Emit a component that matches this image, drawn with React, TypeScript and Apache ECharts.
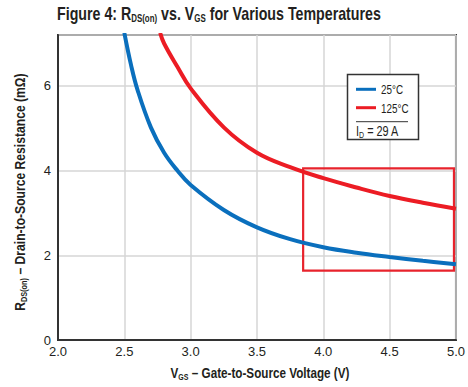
import React, { useEffect, useRef } from "react";
import * as echarts from "echarts";

// ---- data ----
const seriesNames = ["25°C", "125°C"];
const vgs25 = [2.5, 2.55, 2.6, 2.7, 2.8, 2.9, 3.0, 3.25, 3.5, 3.75, 4.0, 4.25, 4.5, 4.75, 5.0];
const rds25 = [7.25, 6.5, 5.9, 5.02, 4.42, 4.0, 3.66, 3.07, 2.66, 2.38, 2.19, 2.06, 1.96, 1.87, 1.79];
const vgs125 = [2.77, 2.8, 2.9, 3.0, 3.25, 3.5, 3.75, 4.0, 4.25, 4.5, 4.75, 5.0];
const rds125 = [7.25, 7.0, 6.45, 5.94, 5.02, 4.42, 4.08, 3.82, 3.6, 3.4, 3.24, 3.1];
const xMin = 2.0, xMax = 5.0, xInterval = 0.5;
const yMin = 0, yMax = 7.2, yInterval = 2;
const highlightX = [3.848, 4.985];
const highlightY = [1.64, 4.05];
const currentLabel = "29 A";

const FONT = "'Liberation Sans', Arial, sans-serif";
const TXT = "#231f20";
const BLUE = "#0a6fbd";
const RED = "#ec1c24";
const COLORS = [BLUE, RED];

function rich(size: number, subSize: number, bold: boolean) {
  const fw = bold ? "bold" : "normal";
  return {
    a: { fontFamily: FONT, fontSize: size, fontWeight: fw, fill: TXT, lineHeight: size + 3 },
    s: { fontFamily: FONT, fontSize: subSize, fontWeight: fw, fill: TXT, lineHeight: subSize + 1, verticalAlign: "bottom" },
  };
}

export default function App() {
  const ref = useRef<HTMLDivElement>(null);
  useEffect(() => {
    if (!ref.current) return;
    const chart = echarts.init(ref.current, undefined, { renderer: "svg" });
    const s25 = vgs25.map((v, i) => [v, rds25[i]]);
    const s125 = vgs125.map((v, i) => [v, rds125[i]]);
    const legendY = [89.3, 107.7];
    chart.setOption({
      animation: false,
      textStyle: { fontFamily: FONT },
      grid: { left: 58, top: 35, right: 7, bottom: 47, show: true, borderColor: "#333", borderWidth: 2 },
      xAxis: {
        type: "value",
        min: xMin,
        max: xMax,
        interval: xInterval,
        axisLine: { show: true, lineStyle: { color: "#333", width: 2 } },
        axisTick: { show: false },
        splitLine: { show: true, lineStyle: { color: "#d6d6d6", width: 1.5 } },
        axisLabel: { formatter: (v: number) => v.toFixed(1), fontSize: 13, color: TXT, margin: 5, fontFamily: FONT },
      },
      yAxis: {
        type: "value",
        min: yMin,
        max: yMax,
        interval: yInterval,
        axisLine: { show: true, lineStyle: { color: "#333", width: 2 } },
        axisTick: { show: false },
        splitLine: { show: true, lineStyle: { color: "#d6d6d6", width: 1.5 } },
        axisLabel: { fontSize: 13, color: TXT, margin: 7, showMaxLabel: false, fontFamily: FONT },
      },
      series: [
        {
          name: seriesNames[0],
          type: "line",
          data: s25,
          smooth: 0.4,
          showSymbol: false,
          lineStyle: { color: BLUE, width: 4 },
          itemStyle: { color: BLUE },
          clip: true,
          z: 3,
        },
        {
          name: seriesNames[1],
          type: "line",
          data: s125,
          smooth: 0.4,
          showSymbol: false,
          lineStyle: { color: RED, width: 4 },
          itemStyle: { color: RED },
          clip: true,
          z: 3,
          markArea: {
            silent: true,
            itemStyle: { color: "rgba(0,0,0,0)", borderColor: "#e8232c", borderWidth: 2.2 },
            data: [[{ coord: [highlightX[0], highlightY[1]] }, { coord: [highlightX[1], highlightY[0]] }]],
          },
        },
      ],
      graphic: [
        {
          type: "text",
          x: 57,
          y: 13,
          scaleX: 0.79,
          style: {
            text: "{a|Figure 4: R}{s|DS(on)}{a| vs. V}{s|GS}{a| for Various Temperatures}",
            align: "left",
            verticalAlign: "middle",
            rich: rich(18, 10, true),
          },
        },
        {
          type: "text",
          x: 260,
          y: 373,
          scaleX: 0.78,
          style: {
            text: "{a|V}{s|GS}{a| – Gate-to-Source Voltage (V)}",
            align: "center",
            verticalAlign: "middle",
            rich: rich(15, 9, true),
          },
        },
        {
          type: "text",
          x: 20,
          y: 192,
          scaleX: 0.81,
          rotation: Math.PI / 2,
          style: {
            text: "{a|R}{s|DS(on)}{a| – Drain-to-Source Resistance (mΩ)}",
            align: "center",
            verticalAlign: "middle",
            rich: rich(15, 9, true),
          },
        },
        {
          type: "rect",
          shape: { x: 347.5, y: 74.5, width: 71, height: 65 },
          style: { fill: "#fff", stroke: "#333", lineWidth: 1.5 },
          z: 10,
        },
        ...seriesNames.flatMap((n, i) => [
          {
            type: "line",
            shape: { x1: 356, y1: legendY[i], x2: 376, y2: legendY[i] },
            style: { stroke: COLORS[i], lineWidth: 3 },
            z: 11,
          },
          {
            type: "text",
            x: 381,
            y: legendY[i] + 0.5,
            scaleX: 0.76,
            style: { text: n, font: `13px ${FONT}`, fill: TXT, align: "left", verticalAlign: "middle" },
            z: 11,
          },
        ]),
        {
          type: "line",
          shape: { x1: 356, y1: 121.7, x2: 408, y2: 121.7 },
          style: { stroke: "#333", lineWidth: 1 },
          z: 11,
        },
        {
          type: "text",
          x: 356,
          y: 131.5,
          scaleX: 0.78,
          style: {
            text: "{a|I}{s|D}{a| = " + currentLabel + "}",
            align: "left",
            verticalAlign: "middle",
            rich: rich(14, 9, false),
          },
          z: 11,
        },
      ],
    });
    return () => chart.dispose();
  }, []);
  return <div ref={ref} style={{ position: "fixed", left: 0, top: 0, width: 468, height: 387, background: "#fff" }} />;
}
